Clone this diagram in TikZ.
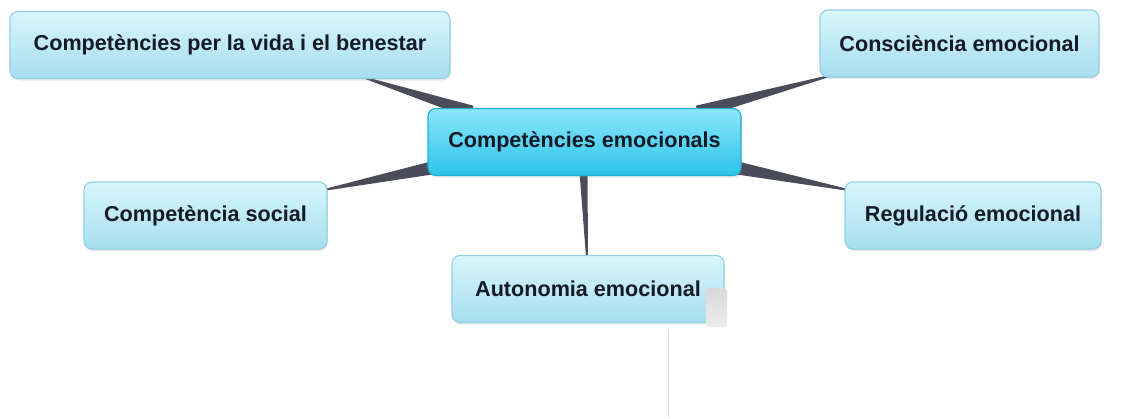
\documentclass[tikz,border=0pt]{standalone}
\usepackage{fontspec}
\setmainfont{Liberation Sans}
\usetikzlibrary{calc,shadows,backgrounds}
\definecolor{leaftop}{HTML}{D8F6FD}
\definecolor{leafbot}{HTML}{A6DDEE}
\definecolor{leafedge}{HTML}{93CFE2}
\definecolor{coretop}{HTML}{8BE6FA}
\definecolor{corebot}{HTML}{2CC3EA}
\definecolor{coreedge}{HTML}{22AFD8}
\definecolor{txt}{HTML}{141A26}
\definecolor{wirec}{HTML}{4A4C5A}
\newcommand{\wedgeline}[2]{%
  \fill[wirec] ($(#1)!1pt!90:(#2)$) -- ($(#1)!1pt!-90:(#2)$) --
    ($(#2)!6.5pt!90:(#1)$) -- ($(#2)!6.5pt!-90:(#1)$) -- cycle;}
\begin{document}
\begin{tikzpicture}[x=1pt,y=-1pt,
  box/.style={rounded corners=8pt, line width=1.1pt, align=center, text=txt,
    font=\bfseries\fontsize{21.6}{24}\selectfont, minimum height=67pt,
    drop shadow={opacity=0.18, shadow xshift=0.8pt, shadow yshift=-2pt}},
  leaf/.style={box, draw=leafedge, top color=leaftop, bottom color=leafbot},
  core/.style={box, draw=coreedge, top color=coretop, bottom color=corebot}]
\useasboundingbox (0,0) rectangle (1147,418);
\node[leaf, minimum width=440pt] (life) at (230,45) {Competències per la vida i el benestar};
\node[leaf, minimum width=279pt] (consc) at (959.5,43.5) {Consciència emocional};
\node[core, minimum width=313pt] (core) at (584.5,142) {Competències emocionals};
\node[leaf, minimum width=243pt] (social) at (205.5,215.5) {Competència social};
\node[leaf, minimum width=256pt] (regul) at (973,215.5) {Regulació emocional};
\node[leaf, minimum width=272pt] (auto) at (588,289) {Autonomia emocional};
\begin{scope}[on background layer]
\coordinate (t1) at ($(life.south east)+(-85,-1)$);
\coordinate (b1) at ($(core.north west)+(44,4)$);
\coordinate (t2) at ($(consc.south west)+(8,-1)$);
\coordinate (b2) at ($(core.north east)+(-44,4)$);
\coordinate (t3) at ($(social.north east)+(-1,8)$);
\coordinate (b3) at ($(core.south west)+(4,-8)$);
\coordinate (t4) at ($(regul.north west)+(1,8)$);
\coordinate (b4) at ($(core.south east)+(-4,-8)$);
\coordinate (t5) at ($(auto.north)+(-1,2)$);
\coordinate (b5) at ($(core.south)+(-1,-4)$);
\wedgeline{t1}{b1}
\wedgeline{t2}{b2}
\wedgeline{t3}{b3}
\wedgeline{t4}{b4}
\fill[wirec] ($(t5)+(-1,0)$) -- ($(t5)+(1,0)$) -- ($(b5)+(4,0)$) -- ($(b5)+(-4,0)$) -- cycle;
\end{scope}
% scanning artefact at the lower right
\fill[white, rounded corners=6pt] (727,266) -- (1020,262) -- (1140,270) -- (1147,300) -- (1147,418) -- (727,418) -- cycle;
\shade[top color=gray!30, bottom color=gray!15, rounded corners=3pt] (706,288) rectangle (727,327);
\draw[gray!25, line width=0.8pt] (668,331) -- (668,418);
\end{tikzpicture}
\end{document}
